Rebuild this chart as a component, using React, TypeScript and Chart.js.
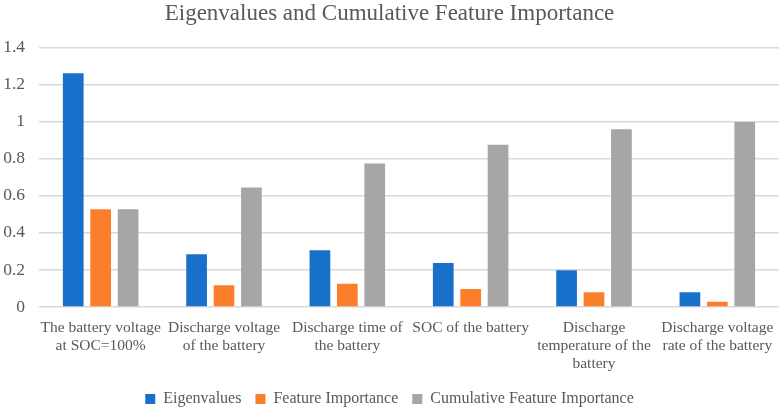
import { useEffect, useRef } from "react";
import Chart from "chart.js/auto";

const categories: string[][] = [
  ["The battery voltage", "at SOC=100%"],
  ["Discharge voltage", "of the battery"],
  ["Discharge time of", "the battery"],
  ["SOC of the battery"],
  ["Discharge", "temperature of the", "battery"],
  ["Discharge voltage", "rate of the battery"],
];

const eigenvalues = [1.262, 0.285, 0.306, 0.238, 0.198, 0.079];
const featureImportance = [0.527, 0.117, 0.126, 0.097, 0.079, 0.029];
const cumulativeImportance = [0.527, 0.645, 0.775, 0.876, 0.96, 0.998];

const FONT = '"Liberation Serif", "Times New Roman", serif';
const TEXT = "#595959";

const App = () => {
  const chartRef = useRef<HTMLCanvasElement>(null);
  const chartInstance = useRef<Chart | null>(null);

  useEffect(() => {
    if (!chartRef.current) return;
    if (chartInstance.current) chartInstance.current.destroy();

    const bar = { categoryPercentage: 0.667, barPercentage: 0.755 };

    chartInstance.current = new Chart(chartRef.current, {
      type: "bar",
      data: {
        labels: categories,
        datasets: [
          { label: "Eigenvalues", data: eigenvalues, backgroundColor: "#1870CA", ...bar },
          { label: "Feature Importance", data: featureImportance, backgroundColor: "#FB7F2A", ...bar },
          { label: "Cumulative Feature Importance", data: cumulativeImportance, backgroundColor: "#A6A6A6", ...bar },
        ],
      },
      options: {
        responsive: false,
        animation: false,
        layout: { padding: { left: 0, right: 3, top: 0, bottom: -9 } },
        plugins: {
          title: {
            display: true,
            text: "Eigenvalues and Cumulative Feature Importance",
            color: TEXT,
            font: { family: FONT, size: 23, weight: "normal" },
            padding: { top: 0, bottom: 20 },
          },
          legend: {
            position: "bottom",
            labels: {
              color: TEXT,
              font: { family: FONT, size: 16 },
              boxWidth: 10,
              boxHeight: 10,
              padding: 14,
            },
          },
          tooltip: { enabled: false },
        },
        scales: {
          x: {
            grid: { display: false },
            border: { display: false },
            afterFit: (scale) => {
              scale.height = 70;
            },
            ticks: {
              color: TEXT,
              font: { family: FONT, size: 15.5, lineHeight: 1.16 },
              maxRotation: 0,
              minRotation: 0,
              autoSkip: false,
              padding: 4,
            },
          },
          y: {
            min: 0,
            max: 1.4,
            border: { display: false },
            grid: { color: "#D9D9D9", lineWidth: 1.5, drawTicks: false },
            afterFit: (scale) => {
              scale.width = 39;
            },
            ticks: {
              stepSize: 0.2,
              color: TEXT,
              font: { family: FONT, size: 17.5 },
              padding: 14,
              callback: (value) => String(Math.round(Number(value) * 10) / 10),
            },
          },
        },
      },
    });

    return () => {
      if (chartInstance.current) {
        chartInstance.current.destroy();
        chartInstance.current = null;
      }
    };
  }, []);

  return (
    <div style={{ position: "fixed", left: 0, top: 0, width: 782, height: 408, background: "#fff" }}>
      <canvas ref={chartRef} width={782} height={408} />
    </div>
  );
};

export default App;
